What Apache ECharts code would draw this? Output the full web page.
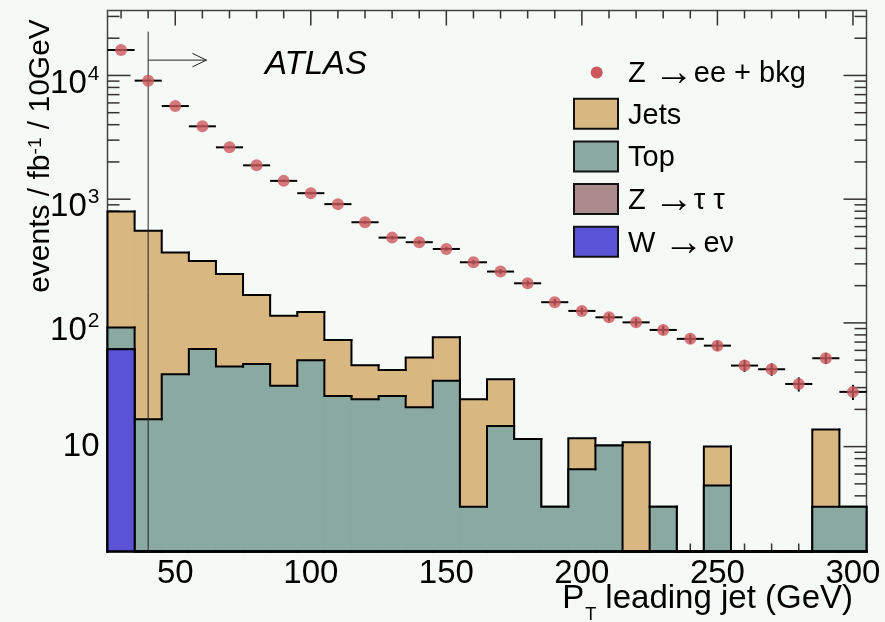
<!DOCTYPE html>
<html>
<head>
<meta charset="utf-8">
<script src="https://cdn.jsdelivr.net/npm/echarts@6/dist/echarts.min.js"></script>
<style>
  html, body { margin: 0; padding: 0; background: #f6faf7; }
  #chart { width: 885px; height: 622px; }
</style>
</head>
<body>
<div id="chart"></div>
<script>
// Leading-jet pT, 10 GeV bins from 25 to 305 GeV
const binEdges = [25, 35, 45, 55, 65, 75, 85, 95, 105, 115, 125, 135, 145, 155, 165,
                  175, 185, 195, 205, 215, 225, 235, 245, 255, 265, 275, 285, 295, 305];

// Z -> ee + bkg candidates (events / fb^-1 / 10 GeV) and their statistical errors
const zeeBkg = [16070, 9080, 5660, 3880, 2625, 1877, 1406, 1118, 912, 651, 489, 449, 396, 309,
                260, 209, 147, 125, 111, 101, 87.7, 74.3, 65.5, 45.2, 42.2, 32.1, 51.8, 27.7];
const zeeErr = [95, 70, 55, 46, 38, 32, 28, 25, 22, 19, 16, 16, 15, 13,
                12, 11, 9, 8, 8, 7.5, 7, 6.4, 6, 5, 4.8, 4.2, 5.3, 3.9];

// Background contributions, stacked bottom to top: W -> e nu, Z -> tau tau, Top, Jets
const wenu    = [61.2, 0, 0, 0, 0, 0, 0, 0, 0, 0, 0, 0, 0, 0,
                 0, 0, 0, 0, 0, 0, 0, 0, 0, 0, 0, 0, 0, 0];
const ztautau = [0, 0, 0, 0, 0, 0, 0, 0, 0, 0, 0, 0, 0, 0,
                 0, 0, 0, 0, 0, 0, 0, 0, 0, 0, 0, 0, 0, 0];
const topBkg  = [30.4, 16.65, 38.5, 61.6, 44.4, 46.6, 31.1, 49.9, 25.7, 24.2, 25.7, 20.8, 34.0, 3.27,
                 14.7, 11.5, 3.27, 6.57, 10.2, 0, 3.27, 0, 4.84, 0, 0, 0, 3.27, 3.27];
const jets    = [702.4, 540, 331.5, 255.4, 204.6, 121.4, 82.9, 72.8, 47.2, 21.3, 16.0, 31.6, 42.6, 20.9,
                 20.4, 0, 0, 5.1, 0, 10.85, 0, 0, 5.16, 0, 0, 0, 10.5, 0];

// Event selection cut on the leading jet
const cutPt = 40;
const cutArrowEnd = 61.5;
const cutArrowLevel = 13300;
const cutLineTop = 22600;

const X_MIN = 25, X_MAX = 305;
const Y_MIN = 1.42, Y_MAX = 33500;

const COLORS = {
  data: '#cc575c',
  jets: '#d9b780',
  top: '#8aa9a0',
  ztt: '#aa8a8a',
  wenu: '#5b53d6',
  line: '#000'
};
const FONT = '"Liberation Sans", Arial, Helvetica, sans-serif';

// legend labels, written as rich text so the arrow can be sized on its own
const legendEntries = [
  { text: '{t|Z }{r|\u2192}{t|ee + bkg}' },
  { text: '{t|Jets}', color: COLORS.jets },
  { text: '{t|Top}', color: COLORS.top },
  { text: '{t|Z }{r|\u2192}{t|\u03c4 \u03c4}', color: COLORS.ztt },
  { text: '{t|W }{r|\u2192}{t|e\u03bd}', color: COLORS.wenu }
];
const legendRich = {
  t: { fontSize: 29, fontFamily: FONT, fill: '#000' },
  r: { fontSize: 40, fontFamily: FONT, fill: '#000' }
};

// cumulative stack levels
function addArr(a, b) { return a.map((v, i) => v + b[i]); }
const lvlW = wenu.slice();
const lvlZtt = addArr(lvlW, ztautau);
const lvlTop = addArr(lvlZtt, topBkg);
const lvlAll = addArr(lvlTop, jets);

const nBins = binEdges.length - 1;
const binCenters = [];
for (let i = 0; i < nBins; i++) binCenters.push((binEdges[i] + binEdges[i + 1]) / 2);

function clampY(v) { return v > Y_MIN ? v : Y_MIN; }

function layerData(levels) {
  const out = [];
  for (let i = 0; i < nBins; i++) {
    out.push([binEdges[i], binEdges[i + 1], levels[i], i > 0 ? levels[i - 1] : 0, i === nBins - 1 ? 1 : 0]);
  }
  return out;
}

function fillSeries(levels, color) {
  return {
    type: 'custom', z: 2, silent: true,
    encode: { x: [0, 1], y: 2 },
    data: layerData(levels),
    renderItem: function (params, api) {
      const v = api.value(2);
      if (!(v > 0)) return null;
      const p0 = api.coord([api.value(0), clampY(v)]);
      const p1 = api.coord([api.value(1), Y_MIN]);
      return {
        type: 'rect',
        shape: { x: p0[0], y: p0[1], width: p1[0] - p0[0], height: p1[1] - p0[1] },
        style: { fill: color, stroke: color, lineWidth: 1 }
      };
    }
  };
}

function outlineSeries(levels) {
  return {
    type: 'custom', z: 2, silent: true,
    encode: { x: [0, 1], y: 2 },
    data: layerData(levels),
    renderItem: function (params, api) {
      const x0 = api.value(0), x1 = api.value(1);
      const v = clampY(api.value(2)), vp = clampY(api.value(3));
      const pts = [api.coord([x0, vp]), api.coord([x0, v]), api.coord([x1, v])];
      if (api.value(4) === 1) pts.push(api.coord([x1, Y_MIN]));
      return {
        type: 'polyline',
        shape: { points: pts },
        style: { stroke: COLORS.line, lineWidth: 2, fill: 'none', lineJoin: 'miter', lineCap: 'square' }
      };
    }
  };
}

// tick positions on all four sides of the frame
const xTickVals = [];
for (let v = 30; v <= 300; v += 10) xTickVals.push(v);
const yTickVals = [];
for (let d = 1; d <= 10000; d *= 10) {
  for (let m = 1; m <= 9; m++) {
    const v = m * d;
    if (v >= Y_MIN && v <= Y_MAX) yTickVals.push(v);
  }
}
function isPow10(v) {
  const l = Math.log10(v);
  return Math.abs(l - Math.round(l)) < 1e-6;
}

const tickStyle = { stroke: '#333', lineWidth: 1.5 };

const series = [
  {
    type: 'custom', z: 1, silent: true,
    data: xTickVals.map(v => [v, Y_MIN]),
    renderItem: function (params, api) {
      const v = api.value(0);
      const len = v % 50 === 0 ? 15 : 8;
      const pt = api.coord([v, Y_MAX]);
      const pb = api.coord([v, Y_MIN]);
      return {
        type: 'group', children: [
          { type: 'line', shape: { x1: pt[0], y1: pt[1], x2: pt[0], y2: pt[1] + len }, style: tickStyle },
          { type: 'line', shape: { x1: pb[0], y1: pb[1], x2: pb[0], y2: pb[1] - len }, style: tickStyle }
        ]
      };
    }
  },
  {
    type: 'custom', z: 1, silent: true,
    data: yTickVals.map(v => [X_MIN, v]),
    renderItem: function (params, api) {
      const v = api.value(1);
      const len = isPow10(v) ? 23 : 12;
      const pl = api.coord([X_MIN, v]);
      const pr = api.coord([X_MAX, v]);
      return {
        type: 'group', children: [
          { type: 'line', shape: { x1: pl[0], y1: pl[1], x2: pl[0] + len, y2: pl[1] }, style: tickStyle },
          { type: 'line', shape: { x1: pr[0], y1: pr[1], x2: pr[0] - len, y2: pr[1] }, style: tickStyle }
        ]
      };
    }
  },
  fillSeries(lvlAll, COLORS.jets), outlineSeries(lvlAll),
  fillSeries(lvlTop, COLORS.top), outlineSeries(lvlTop),
  fillSeries(lvlZtt, COLORS.ztt), outlineSeries(lvlZtt),
  fillSeries(lvlW, COLORS.wenu), outlineSeries(lvlW),
  {
    // cut line with arrow pointing to the accepted region
    type: 'custom', z: 3, silent: true,
    data: [[cutPt, cutLineTop, cutArrowEnd, cutArrowLevel]],
    renderItem: function (params, api) {
      const top = api.coord([api.value(0), api.value(1)]);
      const bot = api.coord([api.value(0), Y_MIN]);
      const a0 = api.coord([api.value(0), api.value(3)]);
      const a1 = api.coord([api.value(2), api.value(3)]);
      const st = { stroke: '#222', lineWidth: 1, fill: 'none' };
      return {
        type: 'group', children: [
          { type: 'line', shape: { x1: top[0], y1: top[1], x2: bot[0], y2: bot[1] }, style: st },
          { type: 'line', shape: { x1: a0[0], y1: a0[1], x2: a1[0], y2: a1[1] }, style: st },
          { type: 'polyline', shape: { points: [[a1[0] - 14, a1[1] - 6.7], [a1[0], a1[1]], [a1[0] - 14, a1[1] + 6.7]] }, style: st }
        ]
      };
    }
  },
  {
    // error bars of the data points
    type: 'custom', z: 4, silent: true,
    data: zeeBkg.map((v, i) => [binCenters[i], v, zeeErr[i], binEdges[i], binEdges[i + 1]]),
    renderItem: function (params, api) {
      const x = api.value(0), v = api.value(1), e = api.value(2);
      const l = api.coord([api.value(3), v]);
      const r = api.coord([api.value(4), v]);
      const up = api.coord([x, v + e]);
      const dn = api.coord([x, Math.max(v - e, Y_MIN)]);
      const st = { stroke: '#000', lineWidth: 2 };
      return {
        type: 'group', children: [
          { type: 'line', shape: { x1: l[0], y1: l[1], x2: r[0], y2: r[1] }, style: st },
          { type: 'line', shape: { x1: up[0], y1: up[1], x2: dn[0], y2: dn[1] }, style: st }
        ]
      };
    }
  },
  {
    type: 'scatter', z: 5, silent: true,
    name: 'Z \u2192 ee + bkg',
    symbol: 'circle', symbolSize: 12,
    itemStyle: { color: COLORS.data },
    data: zeeBkg.map((v, i) => [binCenters[i], v])
  }
];

// legend, experiment label and axis titles
const graphic = [
  { type: 'circle', shape: { cx: 596.7, cy: 72.5, r: 6 }, style: { fill: COLORS.data }, z: 10 },
  { type: 'text', x: 628, y: 74, z: 10,
    style: { text: legendEntries[0].text, rich: legendRich, verticalAlign: 'middle' } }
];
legendEntries.slice(1).forEach(function (b, i) {
  const y0 = 98.7 + i * 42.7;
  graphic.push({ type: 'rect', z: 10, shape: { x: 574, y: y0, width: 44, height: 30 },
                 style: { fill: b.color, stroke: '#111', lineWidth: 2 } });
  graphic.push({ type: 'text', x: 628, y: y0 + 17, z: 10,
                 style: { text: b.text, rich: legendRich, verticalAlign: 'middle' } });
});
graphic.push({ type: 'text', x: 265, y: 65.3, z: 10,
  style: { text: 'ATLAS', fontSize: 33, fontStyle: 'italic', fontFamily: FONT, fill: '#000', verticalAlign: 'middle' } });
graphic.push({ type: 'text', x: 41, y: 156, rotation: Math.PI / 2, z: 10,
  style: {
    text: '{a|events / fb}{s|-1}{a| / 10GeV}',
    align: 'center', verticalAlign: 'middle',
    rich: {
      a: { fontSize: 30, lineHeight: 30, fontFamily: FONT, fill: '#000', verticalAlign: 'bottom' },
      s: { fontSize: 19, lineHeight: 19, fontFamily: FONT, fill: '#000', verticalAlign: 'top' }
    }
  } });
graphic.push({ type: 'text', x: 853, y: 582.2, z: 10,
  style: {
    text: '{a|P}{s|T}{a| leading jet (GeV)}',
    align: 'right', verticalAlign: 'top',
    rich: {
      a: { fontSize: 33, lineHeight: 33, fontFamily: FONT, fill: '#000', verticalAlign: 'top' },
      s: { fontSize: 18, lineHeight: 18, fontFamily: FONT, fill: '#000', verticalAlign: 'top', padding: [23.5, 0, 0, 1] }
    }
  } });

const chart = echarts.init(document.getElementById('chart'), null, { renderer: 'canvas' });
chart.setOption({
  animation: false,
  backgroundColor: '#f6faf7',
  grid: { left: 107.5, right: 18.5, top: 10.5, bottom: 70.5, show: true,
          borderColor: '#444', borderWidth: 1.5, backgroundColor: 'transparent' },
  xAxis: {
    type: 'value', min: X_MIN, max: X_MAX, z: 6,
    axisLine: { show: true, onZero: false, lineStyle: { color: '#000', width: 2.5 } },
    axisTick: { show: false },
    splitLine: { show: false },
    axisLabel: {
      margin: 6, fontSize: 33, fontFamily: FONT, color: '#000',
      formatter: function (v) { return v % 50 === 0 ? String(v) : ''; }
    }
  },
  yAxis: {
    type: 'log', logBase: 10, min: Y_MIN, max: Y_MAX,
    axisLine: { show: false },
    axisTick: { show: false },
    splitLine: { show: false },
    axisLabel: {
      margin: 8, color: '#000',
      formatter: function (v) {
        if (!isPow10(v)) return '';
        const e = Math.round(Math.log10(v));
        return e === 1 ? '{p|10}' : '{b|10}{s|' + e + '}';
      },
      rich: {
        p: { fontSize: 33, fontFamily: FONT, color: '#000' },
        b: { fontSize: 33, lineHeight: 33, fontFamily: FONT, color: '#000', verticalAlign: 'top', padding: [8, 0, 0, 0] },
        s: { fontSize: 21, lineHeight: 21, fontFamily: FONT, color: '#000', verticalAlign: 'top', padding: [4.5, 0, 0, 1] }
      }
    }
  },
  series: series,
  graphic: graphic
});
</script>
</body>
</html>
